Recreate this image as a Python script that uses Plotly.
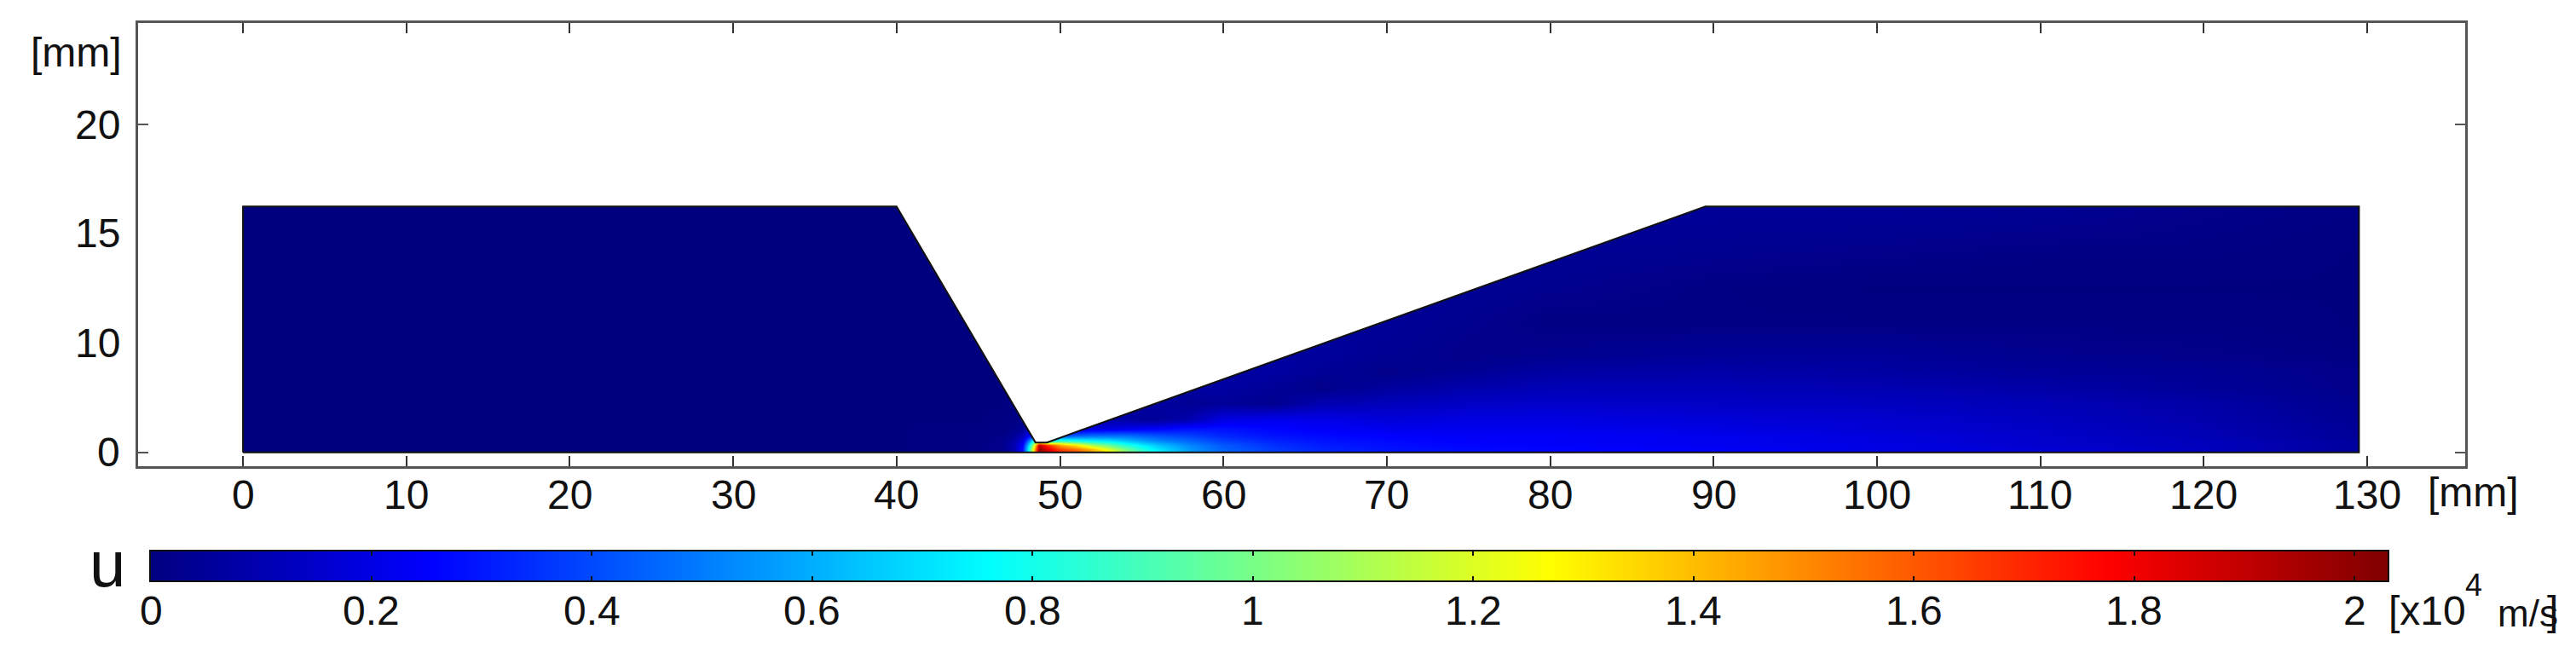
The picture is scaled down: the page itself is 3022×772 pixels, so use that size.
"""Velocity field through a nozzle, drawn with Plotly."""
import plotly.graph_objects as go

WIDTH = 3022
HEIGHT = 772
FONT = "Liberation Sans"

# velocity table, x10^4 m/s
x_cols = [0, 40, 45, 46.5, 47.2, 47.7, 48.1, 48.4, 48.7, 49.2, 50, 51, 52, 53, 54, 55, 56,
          58, 60, 63, 66, 70, 75, 80, 90, 100, 110, 120, 129.5]
y_rows = [0, 0.2, 0.45, 0.7, 1, 1.5, 2, 3, 4, 5, 6, 8, 10, 12, 15]
u_y00 = [0, 0, .01, .03, .1, .3, .8, 1.35, 1.95, 1.85, 1.7, 1.6, 1.45, 1.3, 1.05, .88, .75,
         .57, .46, .38, .33, .3, .28, .27, .25, .21, .17, .13, .06]
u_y02 = [0, 0, .01, .03, .1, .3, .8, 1.35, 2.0, 1.85, 1.65, 1.55, 1.4, 1.2, 1.0, .84, .72,
         .55, .45, .37, .32, .29, .27, .26, .24, .2, .17, .13, .06]
u_y04 = [0, 0, .01, .03, .1, .27, .7, 1.2, 1.9, 1.7, 1.45, 1.3, 1.1, .97, .84, .74, .65,
         .52, .43, .35, .31, .28, .26, .25, .23, .2, .16, .12, .06]
u_y07 = [0, 0, .01, .03, .08, .2, .5, .8, .9, .7, .85, .8, .75, .72, .65, .58, .52,
         .45, .38, .32, .29, .27, .25, .24, .22, .19, .15, .12, .06]
u_y10 = [0, 0, .01, .02, .05, .12, .25, .3, .3, .2, .4, .45, .48, .48, .48, .45, .42,
         .38, .33, .29, .27, .255, .24, .24, .22, .19, .15, .11, .05]
u_y15 = [0, 0, .01, .01, .02, .04, .08, .1, .1, .1, .15, .15, .17, .18, .2, .22, .24,
         .28, .28, .26, .24, .22, .22, .22, .2, .17, .14, .1, .05]
u_y20 = [0, 0, 0, .01, .01, .02, .03, .03, .05, .1, .1, .1, .1, .09, .08, .05, .05,
         .1, .2, .22, .21, .18, .2, .2, .18, .16, .13, .09, .04]
u_y30 = [0, 0, 0, 0, .01, .01, .01, .01, .01, .08, .08, .08, .08, .08, .08, .07, .07,
         .04, .05, .03, .1, .12, .14, .15, .14, .13, .11, .08, .03]
u_y40 = [0, 0, 0, 0, 0, 0, 0, 0, 0, .07, .07, .07, .07, .07, .07, .07, .07,
         .07, .07, .05, .02, .06, .09, .11, .11, .1, .08, .05, .02]
u_y50 = [0, 0, 0, 0, 0, 0, 0, 0, 0, .07, .07, .07, .07, .07, .07, .07, .07,
         .07, .07, .07, .05, .02, .04, .07, .08, .07, .05, .04, .02]
u_y60 = [0, 0, 0, 0, 0, 0, 0, 0, 0, .06, .06, .06, .06, .06, .06, .06, .06,
         .06, .06, .06, .06, .04, .02, .03, .05, .05, .03, .02, .01]
u_y80 = [0, 0, 0, 0, 0, 0, 0, 0, 0, .05, .05, .05, .05, .05, .05, .05, .05,
         .05, .05, .05, .05, .05, .03, .01, .01, .01, .01, .01, 0]
u_y100 = [0, 0, 0, 0, 0, 0, 0, 0, 0, .04, .04, .04, .04, .04, .04, .04, .04,
          .04, .04, .04, .04, .04, .04, .03, .01, 0, 0, 0, 0]
u_y120 = [0, 0, 0, 0, 0, 0, 0, 0, 0, .04, .04, .04, .04, .04, .04, .04, .04,
          .04, .04, .04, .04, .04, .04, .04, .03, .02, .01, .01, 0]
u_y150 = [0, 0, 0, 0, 0, 0, 0, 0, 0, .05, .05, .05, .05, .05, .05, .05, .05,
          .05, .05, .05, .05, .05, .05, .05, .05, .05, .04, .02, .01]
u_table = [u_y00, u_y02, u_y04, u_y07, u_y10, u_y15, u_y20, u_y30, u_y40, u_y50,
           u_y60, u_y80, u_y100, u_y120, u_y150]

# nozzle wall, mm
wall_x = [0, 0, 40, 48.5, 49.2, 89.5, 129.5, 129.5, 0]
wall_y = [0, 15, 15, 0.6, 0.6, 15, 15, 0, 0]
notch_x = [40, 48.5, 49.2, 89.5, 89.5, 40]
notch_y = [15, 0.6, 0.6, 15, 15.4, 15.4]

# axes
x_ticks = [0, 10, 20, 30, 40, 50, 60, 70, 80, 90, 100, 110, 120, 130]
y_ticks = [0, 20]
# the printed y labels do not follow the axis scale
y_labels = ["20", "15", "10", "0"]
y_label_pos = [20, 13.4, 6.67, 0]

# colour bar
bar_values = [0, 0.25, 0.76, 1.27, 1.78, 2.03]
bar_ticks = [0, 0.2, 0.4, 0.6, 0.8, 1, 1.2, 1.4, 1.6, 1.8, 2]
bar_labels = ["0", "0.2", "0.4", "0.6", "0.8", "1", "1.2", "1.4", "1.6", "1.8", "2"]
jet = [[0, "#00007f"], [0.125, "#0000ff"], [0.375, "#00ffff"],
       [0.625, "#ffff00"], [0.875, "#ff0000"], [1, "#7f0000"]]


def pad(values):
    """Thin duplicate cells at both ends so the heatmap stops at the wall."""
    return [values[0], values[0] + 0.02] + values[1:-1] + [values[-1] - 0.02, values[-1]]


def pad_table(table):
    rows = [[r[0]] + r + [r[-1]] for r in table]
    return [rows[0]] + rows + [rows[-1]]


def px_x(x):
    return x / WIDTH


def px_y(y):
    return 1 - y / HEIGHT


def label(text, x, y, size=48, xanchor="center"):
    return dict(text=text, x=px_x(x), y=px_y(y), xref="paper", yref="paper", showarrow=False,
                xanchor=xanchor, yanchor="middle", font=dict(family=FONT, size=size, color="#111"))


fig = go.Figure()
fig.add_trace(go.Heatmap(x=pad(x_cols), y=pad(y_rows), z=pad_table(u_table), zsmooth="best",
                         colorscale=jet, zmin=0, zmax=2.03, showscale=False,
                         xaxis="x", yaxis="y"))
fig.add_trace(go.Scatter(x=notch_x, y=notch_y, mode="lines", fill="toself", fillcolor="white",
                         line=dict(width=0), showlegend=False, xaxis="x", yaxis="y"))
fig.add_trace(go.Scatter(x=wall_x, y=wall_y, mode="lines", line=dict(color="#111", width=2),
                         showlegend=False, xaxis="x", yaxis="y"))
fig.add_trace(go.Heatmap(x=bar_values, y=[0, 1], z=[bar_values, bar_values], zsmooth="best",
                         colorscale=jet, zmin=0, zmax=2.03, showscale=False,
                         xaxis="x2", yaxis="y2"))

tick_font = dict(family=FONT, size=48, color="#111")

# tick labels sit closer to the frame than plotly's own standoff allows
tick_annotations = [
    dict(text=t, x=px_x(143), y=v, xref="paper", yref="y", showarrow=False, xanchor="right",
         yanchor="middle", font=tick_font)
    for t, v in zip(y_labels, y_label_pos)
] + [
    dict(text=str(v), x=v, y=px_y(580), xref="x", yref="paper", showarrow=False,
         yanchor="middle", font=tick_font)
    for v in x_ticks
] + [
    dict(text=t, x=v, y=px_y(716), xref="x2", yref="paper", showarrow=False,
         yanchor="middle", font=tick_font)
    for t, v in zip(bar_labels, bar_ticks)
]

fig.update_layout(
    width=WIDTH,
    height=HEIGHT,
    margin=dict(l=0, r=0, t=0, b=0),
    paper_bgcolor="white",
    plot_bgcolor="white",
    showlegend=False,
    xaxis=dict(domain=[px_x(162), px_x(2892)], range=[-6.42, 136], tickvals=x_ticks,
               ticks="inside", ticklen=12, tickwidth=2, tickcolor="#333", showgrid=False,
               zeroline=False, showline=True, linecolor="#555", linewidth=3, mirror="ticks",
               showticklabels=False, anchor="y", automargin=False),
    yaxis=dict(domain=[px_y(547), px_y(27)], range=[-0.85, 26.2], tickvals=y_ticks,
               ticks="inside", ticklen=12, tickwidth=2, tickcolor="#555", showgrid=False,
               zeroline=False, showline=True, linecolor="#555", linewidth=3, mirror="ticks",
               showticklabels=False, anchor="x", automargin=False),
    xaxis2=dict(domain=[px_x(177), px_x(2801)], range=[0, 2.03], tickvals=bar_ticks,
                ticks="inside", ticklen=5, tickwidth=2, tickcolor="#111",
                showgrid=False, zeroline=False, showline=True, linecolor="#111", linewidth=2,
                mirror="ticks", showticklabels=False, anchor="y2", automargin=False),
    yaxis2=dict(domain=[px_y(681), px_y(647)], range=[0, 1], showticklabels=False, ticks="",
                showgrid=False, zeroline=False, showline=True, linecolor="#111", linewidth=2,
                mirror=True, anchor="x2", automargin=False),
    annotations=tick_annotations + [
        label("[mm]", 89, 62),
        label("[mm]", 2901, 577),
        label("u", 126, 661, size=76),
        label("[x10", 2800, 716, xanchor="left"),
        label("4", 2902, 686, size=36),
        label("m/s", 2928, 719, size=44, xanchor="left"),
        label("]", 3003, 716, xanchor="right"),
    ],
)

fig.write_html("out.html", config={"displayModeBar": False},
               post_script="document.body.style.margin='0';")
